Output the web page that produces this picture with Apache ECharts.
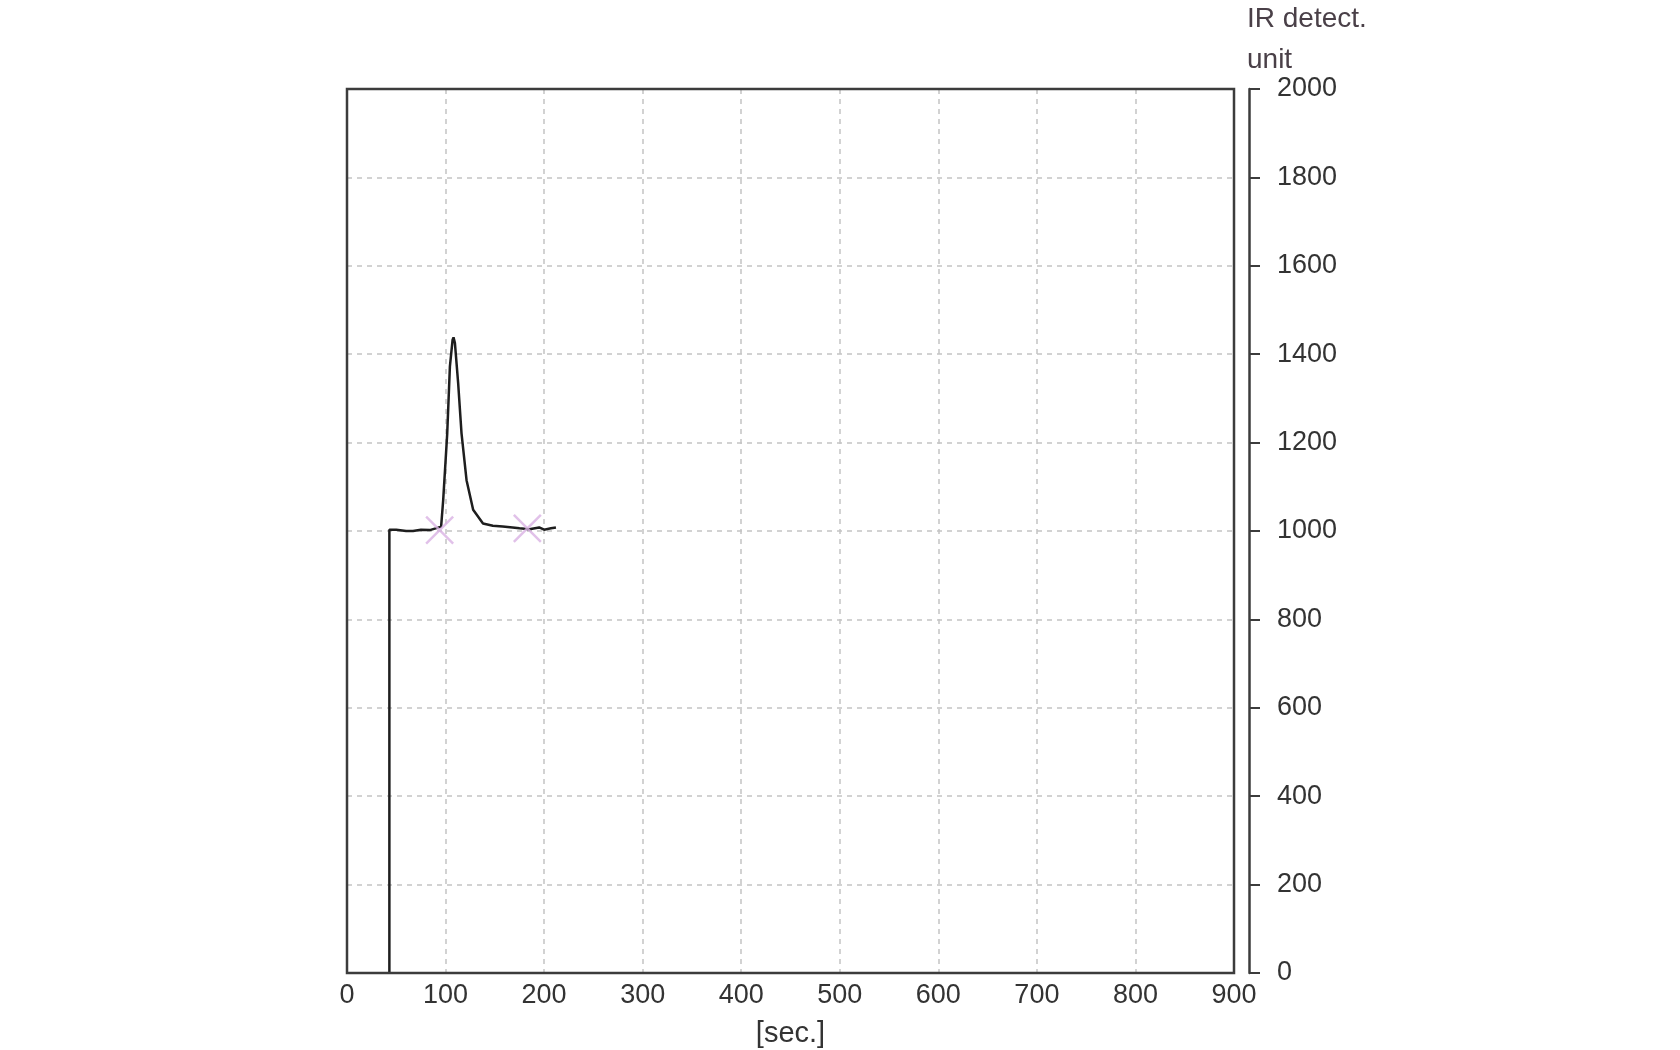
<!DOCTYPE html>
<html>
<head>
<meta charset="utf-8">
<script src="https://cdn.jsdelivr.net/npm/echarts@6/dist/echarts.min.js"></script>
<style>
html,body{margin:0;padding:0;background:#fff;}
#chart{width:1680px;height:1050px;}
</style>
</head>
<body>
<div id="chart"></div>
<script>
// Data
var timeSec = [43, 43, 50, 60, 67, 75, 84, 90, 95.5, 97.6, 101.7, 104.4, 107.1, 108.1, 109.5, 112.8, 116.2, 121.3, 128, 138, 148, 158, 168, 175, 185, 195, 200, 207, 212];
var irValue = [0, 1003, 1003, 1000, 1000, 1003, 1002, 1006, 1010, 1070, 1221, 1372, 1432, 1438, 1425, 1334, 1221, 1115, 1048, 1017, 1012, 1010, 1008, 1006, 1004, 1008, 1003, 1006, 1008];
var markerSec = [94, 183];
var markerValue = [1002, 1006];
var xTicks = [0, 100, 200, 300, 400, 500, 600, 700, 800, 900];
var yTicks = [0, 200, 400, 600, 800, 1000, 1200, 1400, 1600, 1800, 2000];

var linePts = timeSec.map(function (t, i) { return [t, irValue[i]]; });
var markPts = markerSec.map(function (t, i) { return [t, markerValue[i]]; });

var font = 'Liberation Sans, Arial, sans-serif';
var chart = echarts.init(document.getElementById('chart'));
chart.setOption({
  animation: false,
  backgroundColor: '#fff',
  grid: {
    left: 347, right: 446, top: 89, bottom: 77,
    containLabel: false, outerBoundsMode: 'none',
    show: true, borderColor: '#3c3c3c', borderWidth: 2.5, backgroundColor: 'transparent', z: 5
  },
  xAxis: {
    type: 'value',
    min: xTicks[0], max: xTicks[xTicks.length - 1], interval: 100,
    name: '[sec.]', nameLocation: 'middle', nameGap: 46,
    nameTextStyle: { fontSize: 29, color: '#333', fontFamily: font },
    axisLine: { show: false, onZero: false },
    axisTick: { show: false },
    axisLabel: { fontSize: 27, color: '#333', fontFamily: font, margin: 9, formatter: function (v) { return String(v); } },
    splitLine: { show: true, showMinLine: false, showMaxLine: false, lineStyle: { type: [5, 5], color: '#c4c4c4', width: 1.5 } }
  },
  yAxis: {
    type: 'value',
    position: 'right', offset: 15,
    min: yTicks[0], max: yTicks[yTicks.length - 1], interval: 200,
    name: 'IR detect.\nunit', nameLocation: 'end', nameGap: 8, nameMoveOverlap: false,
    nameTextStyle: { fontSize: 28, color: '#4a4048', fontFamily: font, align: 'left', verticalAlign: 'bottom', lineHeight: 41, padding: [0, 0, 0, -2] },
    axisLine: { show: true, onZero: false, lineStyle: { color: '#3c3c3c', width: 2.5 } },
    axisTick: { show: true, inside: false, length: 11, lineStyle: { color: '#3c3c3c', width: 2 } },
    axisLabel: { fontSize: 27, color: '#333', fontFamily: font, margin: 28, formatter: function (v) { return String(v); } },
    splitLine: { show: true, showMinLine: false, showMaxLine: false, lineStyle: { type: [5, 5], color: '#c4c4c4', width: 1.5 } }
  },
  series: [
    {
      type: 'line',
      data: linePts,
      showSymbol: false,
      smooth: false,
      lineStyle: { color: '#1e1e1e', width: 2.5 },
      z: 3
    },
    {
      type: 'scatter',
      data: markPts,
      symbol: 'path://M0,0L10,10M10,0L0,10',
      symbolSize: 27,
      itemStyle: { color: 'none', borderColor: '#d9b2e4', borderWidth: 2.5 },
      z: 4
    }
  ]
});
</script>
</body>
</html>
